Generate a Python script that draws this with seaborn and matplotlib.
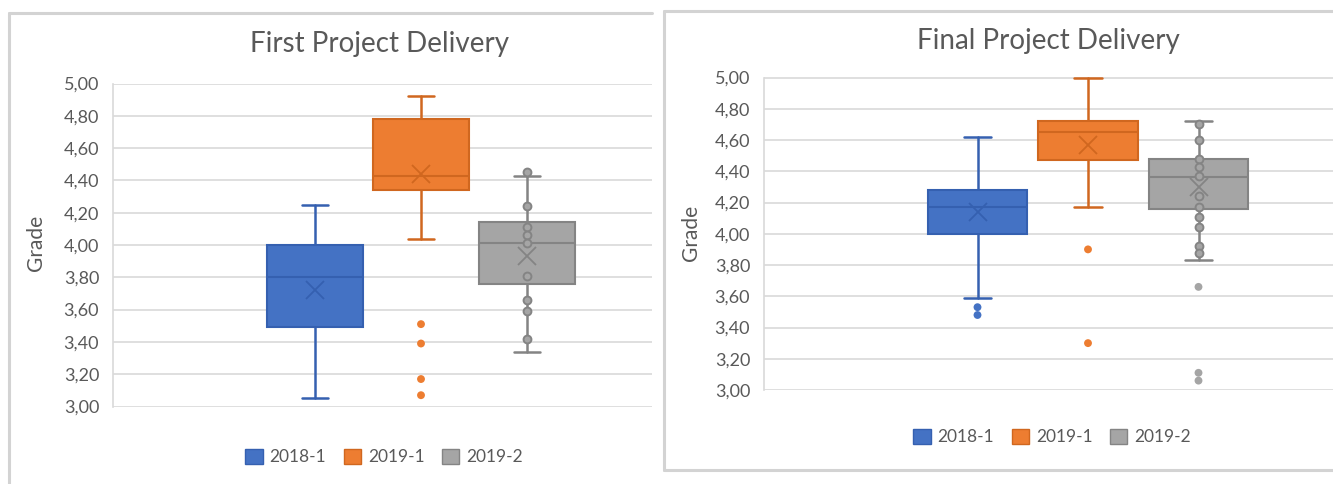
import numpy as np
import pandas as pd
import seaborn as sns
import matplotlib.pyplot as plt
from matplotlib.patches import Patch
from matplotlib.lines import Line2D

sns.set_style("white")
plt.rcParams['font.family'] = ['Lato', 'DejaVu Sans']

series = ['2018-1', '2019-1', '2019-2']
colors = ['#4472C4', '#ED7D31', '#A5A5A5']
edges = ['#3560b0', '#d0671f', '#848484']

# box stats: whisker low, q1, median, q3, whisker high, mean
first_blue = [3.05, 3.49, 3.80, 4.00, 4.25, 3.72]
first_orange = [4.04, 4.34, 4.43, 4.78, 4.92, 4.44]
first_gray = [3.34, 3.76, 4.01, 4.14, 4.43, 3.93]
first_outliers = [[], [3.51, 3.39, 3.17, 3.07], []]
first_inner = [[], [], [4.45, 4.24, 4.11, 4.06, 4.01, 3.81, 3.66, 3.59, 3.42]]

final_blue = [3.59, 4.00, 4.17, 4.28, 4.62, 4.14]
final_orange = [4.17, 4.475, 4.65, 4.72, 5.00, 4.57]
final_gray = [3.83, 4.16, 4.365, 4.48, 4.72, 4.30]
final_outliers = [[3.53, 3.48], [3.90, 3.30], [3.66, 3.11, 3.06]]
final_inner = [[], [], [4.70, 4.60, 4.48, 4.43, 4.37, 4.24, 4.17, 4.11, 4.045, 3.92, 3.88]]

yticks = np.arange(3.0, 5.01, 0.2)

W, H = 1333, 484
fig = plt.figure(figsize=(W / 100, H / 100), dpi=100)


def px_axes(l, t, r, b):
    return fig.add_axes([l / W, 1 - b / H, (r - l) / W, (b - t) / H])


def draw_chart(ax, stats, outliers, inner, xlim):
    bstats = []
    for name, s in zip(series, stats):
        bstats.append(dict(label=name, whislo=s[0], q1=s[1], med=s[2], q3=s[3],
                           whishi=s[4], mean=s[5], fliers=[]))
    pos = np.arange(len(series))
    parts = ax.bxp(bstats, positions=pos, widths=0.9, capwidths=0.25,
                   showmeans=True, patch_artist=True, showfliers=False, zorder=3)
    for i in range(len(series)):
        parts['boxes'][i].set(facecolor=colors[i], edgecolor=edges[i], linewidth=1.5)
        parts['medians'][i].set(color=edges[i], linewidth=1.5)
        parts['means'][i].set(marker='x', markersize=13, markeredgecolor=edges[i],
                              markeredgewidth=1.3, zorder=6)
        for w in parts['whiskers'][2 * i:2 * i + 2] + parts['caps'][2 * i:2 * i + 2]:
            w.set(color=edges[i], linewidth=1.8, zorder=2)

    out = pd.DataFrame([(series[i], i, v) for i in range(3) for v in outliers[i]],
                       columns=['series', 'pos', 'grade'])
    sns.scatterplot(data=out, x='pos', y='grade', hue='series', palette=dict(zip(series, colors)),
                    s=32, linewidth=0, legend=False, ax=ax, zorder=5)
    inn = pd.DataFrame([(series[i], i, v) for i in range(3) for v in inner[i]],
                       columns=['series', 'pos', 'grade'])
    sns.scatterplot(data=inn, x='pos', y='grade', color=colors[2], edgecolor=edges[2],
                    s=32, linewidth=1.4, legend=False, ax=ax, zorder=5)

    ax.set_xlim(*xlim)
    ax.set_ylim(3.0, 5.0)
    ax.set_yticks(yticks)
    ax.set_yticklabels([f"{v:.2f}".replace('.', ',') for v in yticks])
    ax.set_xticks([])
    ax.set_xlabel('')
    ax.set_ylabel('')
    ax.grid(axis='y', color='#d9d9d9', linewidth=1.2, zorder=0)
    ax.set_axisbelow(True)
    for sp in ['top', 'right', 'bottom']:
        ax.spines[sp].set_visible(False)
    ax.spines['left'].set(color='#d9d9d9', linewidth=1.2)
    ax.tick_params(axis='y', length=0, labelsize=13, colors='#595959', pad=10)
    ax.patch.set_alpha(0)


# panel borders
fig.add_artist(Line2D([9 / W, 9 / W], [0, 1 - 13 / H], color='#d3d3d3', lw=2.2))
fig.add_artist(Line2D([9 / W, 652 / W], [1 - 13 / H, 1 - 13 / H], color='#d3d3d3', lw=2.2))
fig.add_artist(Line2D([664 / W, 664 / W], [1 - 470 / H, 1 - 11 / H], color='#d3d3d3', lw=2.2))
fig.add_artist(Line2D([664 / W, 1], [1 - 11 / H, 1 - 11 / H], color='#d3d3d3', lw=2.2))
fig.add_artist(Line2D([664 / W, 1], [1 - 470 / H, 1 - 470 / H], color='#d3d3d3', lw=2.2))

# middle box (index 1) sits at these pixel x positions
ax1 = px_axes(113, 83.5, 652, 406.5)
draw_chart(ax1, [first_blue, first_orange, first_gray], first_outliers, first_inner,
           (1 + (113 - 421) / 106, 1 + (652 - 421) / 106))
ax2 = px_axes(764, 77.5, 1333, 390)
draw_chart(ax2, [final_blue, final_orange, final_gray], final_outliers, final_inner,
           (1 + (764 - 1088) / 110.5, 1 + (1333 - 1088) / 110.5))

fig.text(380 / W, 1 - 44 / H, 'First Project Delivery', ha='center', va='center',
         fontsize=20, color='#595959')
fig.text(1048 / W, 1 - 41 / H, 'Final Project Delivery', ha='center', va='center',
         fontsize=20, color='#595959')
fig.text(36 / W, 1 - 243 / H, 'Grade', rotation=90, ha='center', va='center',
         fontsize=15, color='#595959')
fig.text(691 / W, 1 - 233 / H, 'Grade', rotation=90, ha='center', va='center',
         fontsize=15, color='#595959')

handles = [Patch(facecolor=c, edgecolor=e, linewidth=1) for c, e in zip(colors, edges)]
for cx, cy in [(384, 457), (1052, 437)]:
    fig.legend(handles, series, loc='center', bbox_to_anchor=(cx / W, 1 - cy / H), ncol=3,
               frameon=False, fontsize=12.5, handlelength=1.0, handleheight=1.0,
               handletextpad=0.4, columnspacing=1.0, labelcolor='#595959')

fig.savefig('out.png', dpi=100, facecolor='white')
